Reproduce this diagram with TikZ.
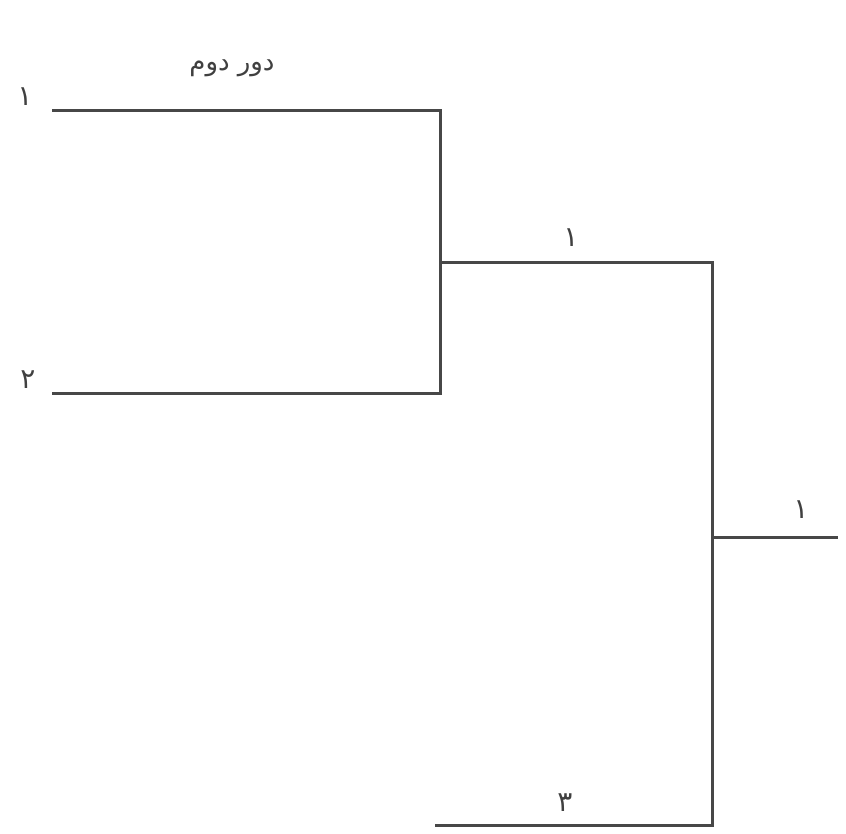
\documentclass[tikz,border=0pt]{standalone}
\usepackage{fontspec}
\newfontfamily\arabicfont[Script=Arabic]{DejaVu Sans}
\TeXXeTstate=1
\begin{document}
\begin{tikzpicture}[x=1pt,y=-1pt,
  wire/.style={draw=black!72,line width=3pt},
  lbl/.style={font=\arabicfont\fontsize{28}{30}\selectfont,text=black!75,inner sep=0pt}]
\useasboundingbox (0,0) rectangle (846,833);
\coordinate (a1) at (52,110);
\coordinate (a2) at (52,393);
\coordinate (b1) at (440,110);
\coordinate (b2) at (440,393);
\coordinate (m) at (440,262);
\coordinate (c1) at (712,262);
\coordinate (d1) at (435,825);
\coordinate (c2) at (712,825);
\coordinate (o) at (712,537);
\coordinate (oe) at (838,537);
\draw[wire] (a1) -- (b1) -- (b2) -- (a2);
\draw[wire] (m) -- (c1) -- (c2) -- (d1);
\draw[wire] (o) -- (oe);
\node[lbl] (l1) at (25,97) {\beginR ۱\endR};
\node[lbl] (l2) at (28,380) {\beginR ۲\endR};
\node[lbl] (l3) at (571,238) {\beginR ۱\endR};
\node[lbl] (l4) at (801,510) {\beginR ۱\endR};
\node[lbl] (l5) at (565,803) {\beginR ۳\endR};
\node[lbl,font=\arabicfont\fontsize{26}{28}\selectfont] (t) at (232,68) {\beginR دور دوم\endR};
\end{tikzpicture}
\end{document}
